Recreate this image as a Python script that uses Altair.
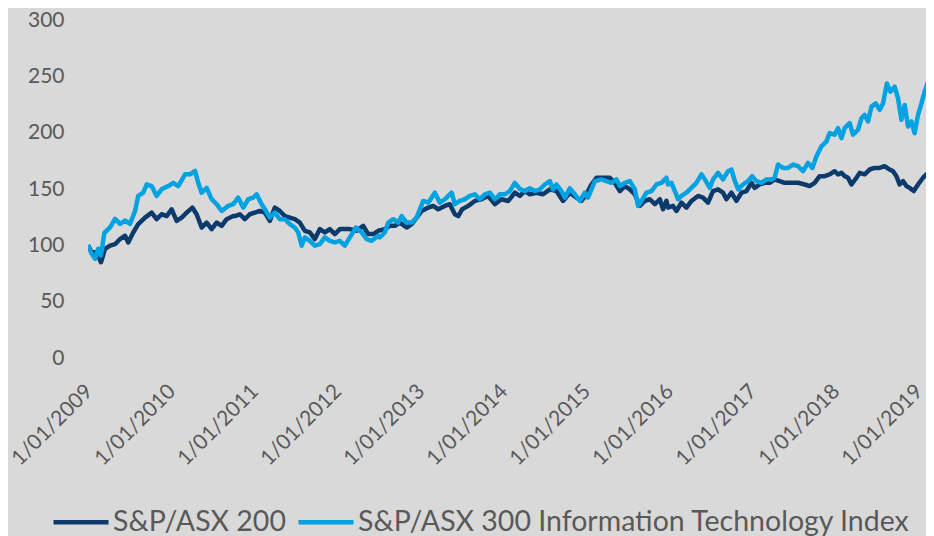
import altair as alt
import pandas as pd

# S&P/ASX 200 (rebased to 100)
asx200_dates = [
    "2009-01-01", "2009-01-17", "2009-02-08", "2009-02-27", "2009-03-17", "2009-04-08", "2009-04-30",
    "2009-05-22", "2009-06-13", "2009-06-27", "2009-07-19", "2009-08-10", "2009-09-09", "2009-10-08",
    "2009-10-30", "2009-11-21", "2009-12-13", "2010-01-04", "2010-01-26", "2010-02-17", "2010-03-11",
    "2010-04-05", "2010-04-24", "2010-05-16", "2010-06-07", "2010-06-29", "2010-07-21", "2010-08-12",
    "2010-09-03", "2010-10-02", "2010-10-10", "2010-10-31", "2010-11-22", "2010-12-14", "2011-01-05",
    "2011-01-27", "2011-02-18", "2011-03-12", "2011-04-03", "2011-04-25", "2011-05-17", "2011-06-08",
    "2011-06-30", "2011-07-22", "2011-08-13", "2011-09-04", "2011-09-26", "2011-10-18", "2011-11-09",
    "2011-12-01", "2011-12-23", "2012-01-14", "2012-02-05", "2012-02-27", "2012-03-28", "2012-04-26",
    "2012-05-18", "2012-06-09", "2012-07-01", "2012-07-30", "2012-08-21", "2012-09-12", "2012-10-04",
    "2012-11-03", "2012-11-25", "2012-12-17", "2013-01-08", "2013-02-06", "2013-02-28", "2013-03-22",
    "2013-04-20", "2013-05-12", "2013-06-03", "2013-06-18", "2013-07-05", "2013-08-01", "2013-08-30",
    "2013-09-28", "2013-10-28", "2013-11-26", "2013-12-25", "2014-01-24", "2014-02-22", "2014-03-16",
    "2014-04-07", "2014-04-29", "2014-05-28", "2014-06-26", "2014-07-26", "2014-08-24", "2014-09-22",
    "2014-10-22", "2014-11-20", "2014-12-12", "2015-01-03", "2015-01-25", "2015-02-16", "2015-03-17",
    "2015-04-16", "2015-05-08", "2015-05-30", "2015-06-21", "2015-07-13", "2015-08-04", "2015-08-26",
    "2015-09-17", "2015-10-09", "2015-10-31", "2015-11-22", "2015-12-06", "2015-12-21", "2015-12-28",
    "2016-01-19", "2016-02-03", "2016-02-25", "2016-03-18", "2016-04-09", "2016-05-08", "2016-05-30",
    "2016-06-21", "2016-07-13", "2016-08-04", "2016-08-26", "2016-09-10", "2016-10-02", "2016-10-24",
    "2016-11-15", "2016-12-07", "2016-12-29", "2017-01-12", "2017-02-03", "2017-02-25", "2017-03-19",
    "2017-04-10", "2017-05-02", "2017-05-24", "2017-06-23", "2017-07-22", "2017-08-21", "2017-09-11",
    "2017-10-03", "2017-10-25", "2017-11-16", "2017-12-08", "2017-12-30", "2018-01-14", "2018-01-29",
    "2018-02-12", "2018-02-27", "2018-03-14", "2018-04-05", "2018-04-19", "2018-05-11", "2018-06-02",
    "2018-06-24", "2018-07-16", "2018-08-07", "2018-08-29", "2018-09-13", "2018-09-28", "2018-10-12",
    "2018-10-27", "2018-11-11", "2018-11-25", "2018-12-13", "2019-01-01", "2019-01-23", "2019-02-14",
    "2019-03-08",
]
asx200_values = [
    100, 93.8, 93.8, 85, 96.8, 99.7, 101,
    105.6, 108.5, 102.6, 111.4, 118.8, 124.6, 129,
    123.2, 127.6, 126, 132, 121.7, 124.6, 129,
    133.5, 127.6, 115.8, 120.2, 114.4, 120.2, 117.3,
    123.2, 126, 126, 127.6, 123.2, 127.6, 129,
    130.5, 129, 121.7, 133.5, 130.5, 126, 124.6,
    123.2, 120.2, 112.9, 111.4, 105.6, 114.4, 111.4,
    114.4, 110, 114.4, 114.4, 114.4, 112.9, 117.3,
    110, 110, 112.9, 114.4, 117.3, 117.3, 120.2,
    115.8, 118.8, 124.6, 130.5, 133.5, 135, 132,
    135, 136.5, 127.6, 126, 132, 135, 139.4,
    140.9, 143.8, 136.5, 140.9, 139.4, 146.7, 143.8,
    148.2, 145.3, 146.7, 145.3, 149.7, 148.2, 139.4,
    146.7, 142.3, 139.4, 145.3, 154, 160, 160,
    160, 155.5, 148.2, 152.6, 149.7, 145.3, 135,
    139.4, 140.9, 136.5, 140.9, 132, 139.4, 133.5,
    135, 130.5, 137.9, 133.5, 139.4, 143.8, 142.3,
    137.9, 148.2, 149.7, 146.7, 140.9, 146.7, 139.4,
    146.7, 148.2, 155.5, 151, 154, 155.5, 155.5,
    158.5, 157, 155.5, 155.5, 155.5, 154, 152.6,
    155.5, 161.4, 161.4, 163, 165.8, 163, 164.3,
    161.4, 160, 154, 160, 164.3, 163, 167.3,
    168.7, 168.7, 170.2, 167.3, 165.8, 161.4, 154,
    157, 152.6, 151, 148.2, 154, 160, 164.3,
    167.3,
]

# S&P/ASX 300 Information Technology Index (rebased to 100)
it_dates = [
    "2009-01-01", "2009-01-17", "2009-02-01", "2009-02-15", "2009-02-27", "2009-03-14", "2009-04-08",
    "2009-04-30", "2009-05-22", "2009-06-13", "2009-07-05", "2009-07-27", "2009-08-10", "2009-09-01",
    "2009-09-16", "2009-10-08", "2009-10-30", "2009-11-21", "2009-12-20", "2010-01-11", "2010-02-02",
    "2010-03-04", "2010-03-26", "2010-04-17", "2010-05-01", "2010-05-16", "2010-06-07", "2010-06-29",
    "2010-07-21", "2010-08-12", "2010-09-10", "2010-10-02", "2010-10-24", "2010-11-15", "2010-12-07",
    "2010-12-29", "2011-01-13", "2011-02-04", "2011-02-18", "2011-03-12", "2011-04-03", "2011-04-25",
    "2011-05-17", "2011-06-08", "2011-06-30", "2011-07-15", "2011-07-30", "2011-08-13", "2011-09-04",
    "2011-09-26", "2011-10-18", "2011-11-09", "2011-12-01", "2011-12-23", "2012-01-14", "2012-02-05",
    "2012-02-27", "2012-03-25", "2012-04-19", "2012-05-11", "2012-06-02", "2012-07-01", "2012-07-08",
    "2012-07-30", "2012-08-14", "2012-09-05", "2012-09-27", "2012-10-12", "2012-11-03", "2012-11-25",
    "2012-12-17", "2012-12-31", "2013-01-15", "2013-02-06", "2013-03-07", "2013-03-29", "2013-04-20",
    "2013-05-05", "2013-05-20", "2013-06-03", "2013-06-25", "2013-07-17", "2013-08-08", "2013-08-30",
    "2013-09-21", "2013-10-13", "2013-11-04", "2013-11-26", "2013-12-18", "2014-01-09", "2014-01-31",
    "2014-02-22", "2014-03-16", "2014-04-07", "2014-04-29", "2014-05-21", "2014-06-12", "2014-07-04",
    "2014-07-26", "2014-08-09", "2014-08-24", "2014-09-15", "2014-09-30", "2014-10-22", "2014-11-13",
    "2014-12-05", "2014-12-27", "2015-01-10", "2015-01-25", "2015-02-09", "2015-03-10", "2015-04-01",
    "2015-04-23", "2015-05-15", "2015-05-30", "2015-06-21", "2015-07-13", "2015-08-04", "2015-08-18",
    "2015-09-02", "2015-09-24", "2015-10-16", "2015-11-07", "2015-11-29", "2015-12-21", "2015-12-28",
    "2016-01-12", "2016-01-27", "2016-02-10", "2016-02-25", "2016-03-18", "2016-04-09", "2016-05-01",
    "2016-05-23", "2016-06-07", "2016-06-29", "2016-07-13", "2016-08-04", "2016-08-26", "2016-09-17",
    "2016-10-02", "2016-10-17", "2016-11-01", "2016-11-22", "2016-12-14", "2017-01-01", "2017-01-20",
    "2017-02-11", "2017-03-05", "2017-03-27", "2017-04-10", "2017-04-25", "2017-05-17", "2017-06-08",
    "2017-06-30", "2017-07-22", "2017-08-13", "2017-09-04", "2017-09-23", "2017-10-11", "2017-11-02",
    "2017-11-24", "2017-12-08", "2017-12-30", "2018-01-14", "2018-01-29", "2018-02-12", "2018-03-06",
    "2018-03-21", "2018-04-12", "2018-04-27", "2018-05-11", "2018-05-26", "2018-06-10", "2018-06-29",
    "2018-07-16", "2018-07-31", "2018-08-17", "2018-09-01", "2018-09-20", "2018-10-05", "2018-10-20",
    "2018-11-03", "2018-11-18", "2018-12-03", "2018-12-17", "2019-01-01", "2019-01-16", "2019-01-30",
    "2019-02-14", "2019-03-01", "2019-03-11",
]
it_values = [
    100, 92.6, 88, 97, 91, 111, 116,
    123.5, 119, 122, 119, 130.5, 143.8, 146.7,
    154, 152.6, 143.8, 149.7, 152.6, 155.5, 152.6,
    163, 163, 166, 155.5, 146.7, 151, 141,
    136.5, 130.5, 135, 136.5, 142.3, 133.5, 140.9,
    142.3, 145.3, 136.5, 132, 124.6, 129, 123.2,
    123.2, 118.8, 115.8, 111.4, 99.7, 107, 104,
    99.7, 101, 107, 104, 102.6, 104, 99.7,
    107, 115.8, 111.4, 105.6, 104, 108.5, 107,
    111.4, 120.2, 123.2, 120.2, 126, 120.2, 120.2,
    124.6, 132, 139.4, 137.9, 146.7, 137.9, 140.9,
    143.8, 146.7, 136.5, 139.4, 140.9, 143.8, 145.3,
    140.9, 145.3, 146.7, 140.9, 145.3, 145.3, 148.2,
    155.5, 150, 148.2, 150.6, 148.2, 149.7, 154,
    157, 149.7, 154, 148.2, 142.3, 150.6, 145.3,
    139.4, 146.7, 142.3, 149.7, 157, 158.5, 157,
    155.5, 158.5, 152.6, 155.5, 157, 149.7, 135,
    139.4, 146.7, 148.2, 154, 155.5, 160, 154,
    155.5, 148.2, 140.9, 143.8, 146.7, 151, 155.5,
    163, 158.5, 151, 158.5, 164.3, 158.5, 165.8,
    167.3, 157, 149.7, 154, 157, 161.4, 157,
    155.5, 158.5, 158.5, 160, 171.7, 168.7, 168.7,
    171.7, 170.2, 165.8, 173.2, 168.7, 179, 187.9,
    192.3, 199.6, 198.2, 204, 195.2, 204, 208.4,
    198.2, 202.6, 212.8, 215.8, 210, 223.1, 226,
    220.2, 226, 243.7, 236.4, 240.8, 230.5, 211.4,
    224.6, 205.5, 210, 199.6, 215.8, 226, 236.4,
    245.2, 251.1, 255.5,
]

series_names = ["S&P/ASX 200", "S&P/ASX 300 Information Technology Index"]
series_colors = ["#0c3a6b", "#00a2e1"]
y_ticks = [0, 50, 100, 150, 200, 250, 300]
x_tick_years = list(range(2009, 2020))

df = pd.concat([
    pd.DataFrame({"date": asx200_dates, "value": asx200_values, "series": series_names[0]}),
    pd.DataFrame({"date": it_dates, "value": it_values, "series": series_names[1]}),
])

FONT = "Lato"
TXT = "#595959"

chart = alt.Chart(df).mark_line(strokeWidth=4.5, strokeJoin="round", clip=True).encode(
    x=alt.X(
        "date:T",
        scale=alt.Scale(
            type="utc",
            domain=[alt.DateTime(year=2009, month=1, date=1, utc=True),
                    alt.DateTime(year=2019, month=2, date=5, utc=True)],
        ),
        axis=alt.Axis(
            values=[alt.DateTime(year=y, month=1, date=1, utc=True) for y in x_tick_years],
            labelExpr="utcFormat(datum.value, '%-d/%m/%Y')",
            labelAngle=315, labelAlign="right", labelBaseline="middle",
            labelPadding=30, labelOffset=1, labelFont=FONT, labelFontSize=21, labelColor=TXT,
            domain=False, ticks=False, grid=False, title=None, labelOverlap=False,
            labelBound=False, labelFlush=False,
        ),
    ),
    y=alt.Y(
        "value:Q",
        scale=alt.Scale(domain=[0, 300], nice=False, zero=True),
        axis=alt.Axis(
            values=y_ticks, labelFont=FONT, labelFontSize=21, labelColor=TXT,
            labelPadding=24, domain=False, ticks=False, grid=False, title=None,
        ),
    ),
    color=alt.Color(
        "series:N",
        scale=alt.Scale(domain=series_names, range=series_colors),
        sort=series_names,
        legend=alt.Legend(
            orient="none", legendX=-37, legendY=472, direction="horizontal",
            title=None, symbolType="stroke", symbolSize=3025, symbolStrokeWidth=4.5,
            labelFont=FONT, labelFontSize=28.5, labelColor=TXT, labelOffset=2,
            columnPadding=3, padding=0, labelLimit=0,
        ),
    ),
).properties(
    width=838, height=338,
    autosize=alt.AutoSizeParams(type="none"),
    padding={"left": 80, "top": 12, "right": 0, "bottom": 178},
    background="#d9d9d9",
).configure_view(stroke=None)

chart.save("out.html", embed_options={"renderer": "svg", "actions": False})
